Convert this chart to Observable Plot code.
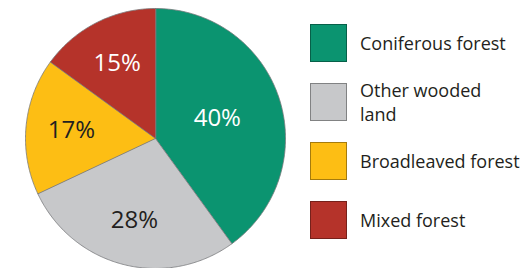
<!DOCTYPE html>
<html>
<head>
<meta charset="utf-8">
<script src="https://cdn.jsdelivr.net/npm/d3@7"></script>
<script src="https://cdn.jsdelivr.net/npm/@observablehq/plot@0.6"></script>
<style>
  html, body { margin: 0; padding: 0; background: #fff; }
  #wrap { position: relative; width: 525px; height: 268px; overflow: hidden; font-family: "Open Sans", sans-serif; }
  #legend { position: absolute; left: 310px; top: 23px; }
  .item { display: flex; align-items: center; height: 39px; margin-bottom: 20px; }
  .sw { width: 37px; height: 38px; box-sizing: border-box; border: 1px solid rgba(0,0,0,0.35); flex: none; }
  .lab { margin-left: 13px; font-size: 18px; line-height: 24px; color: #231f20; white-space: nowrap; }
</style>
</head>
<body>
<div id="wrap"><div id="chart"></div><div id="legend"></div></div>
<script>
const categories = ["Coniferous forest", "Other wooded land", "Broadleaved forest", "Mixed forest"];
const legendLabels = ["Coniferous forest", "Other wooded<br>land", "Broadleaved forest", "Mixed forest"];
const shares = [40, 28, 17, 15];
const valueLabels = ["40%", "28%", "17%", "15%"];
const colors = ["#0b9470", "#c7c8ca", "#fdbe14", "#b5332a"];
const labelInk = ["white", "#231f20", "#231f20", "white"];

const arcs = d3.pie().sort(null).value(d => d)(shares);

// Slice outlines in unit-circle space (angle clockwise from 12 o'clock)
const slicePts = [];
arcs.forEach((a, i) => {
  const cat = categories[i];
  const n = Math.max(4, Math.ceil((a.endAngle - a.startAngle) / 0.01));
  slicePts.push({cat, x: 0, y: 0});
  for (let k = 0; k <= n; k++) {
    const t = a.startAngle + (a.endAngle - a.startAngle) * k / n;
    slicePts.push({cat, x: Math.sin(t), y: Math.cos(t)});
  }
});

const labelPts = arcs.map((a, i) => {
  const mid = (a.startAngle + a.endAngle) / 2;
  const r = shares[i] > 30 ? 0.5 : 0.65;
  return {text: valueLabels[i], ink: labelInk[i], x: r * Math.sin(mid), y: r * Math.cos(mid)};
});

const chart = Plot.plot({
  width: 525,
  height: 268,
  marginLeft: 25,
  marginRight: 240,
  marginTop: 8,
  marginBottom: 0,
  x: {domain: [-1, 1], axis: null},
  y: {domain: [-1, 1], axis: null},
  color: {domain: categories, range: colors},
  style: {fontFamily: "Open Sans, sans-serif", background: "white"},
  marks: [
    Plot.line(slicePts, {x: "x", y: "y", z: "cat", fill: "cat", stroke: "#77787b", strokeWidth: 0.8, curve: "linear-closed"}),
    Plot.text(labelPts.filter(d => d.ink === "white"), {x: "x", y: "y", text: "text", fill: "white", fontSize: 24}),
    Plot.text(labelPts.filter(d => d.ink !== "white"), {x: "x", y: "y", text: "text", fill: "#231f20", fontSize: 24})
  ]
});
document.getElementById("chart").appendChild(chart);

const legend = document.getElementById("legend");
categories.forEach((c, i) => {
  const item = document.createElement("div");
  item.className = "item";
  item.innerHTML = `<div class="sw" style="background:${colors[i]}"></div><div class="lab">${legendLabels[i]}</div>`;
  legend.appendChild(item);
});
</script>
</body>
</html>
